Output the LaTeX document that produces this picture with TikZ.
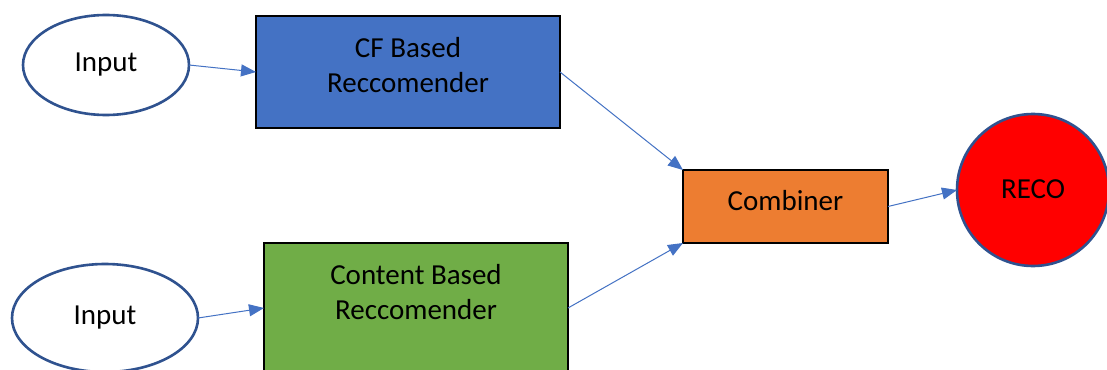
\documentclass[tikz,border=0pt]{standalone}
\usepackage{fontspec}
\setmainfont{Carlito}
\usetikzlibrary{arrows.meta,shapes.geometric}
\definecolor{cfblue}{HTML}{4472C4}
\definecolor{contgreen}{HTML}{70AD47}
\definecolor{combor}{HTML}{ED7D31}
\definecolor{rimblue}{HTML}{2F528F}
\tikzset{
  inbox/.style={ellipse,draw=rimblue,line width=1.3pt,fill=white,outer sep=0pt,inner sep=0pt},
  recbox/.style={rectangle,draw=black,line width=0.75pt,outer sep=0pt,align=center,inner sep=0pt},
  link/.style={draw=cfblue,line width=0.5pt,-{Triangle[length=7.5pt,width=6pt]}}
}
\begin{document}
\begin{tikzpicture}[x=0.5pt,y=-0.5pt,font=\fontsize{14.5}{17.5}\selectfont]
  \clip (0,0) rectangle (1107,369);
  \fill[white] (0,0) rectangle (1107,369);
  % sources
  \node[inbox,minimum width=83pt,minimum height=50pt] (in1) at (106,65) {Input};
  \node[inbox,minimum width=93pt,minimum height=54pt] (in2) at (105,318) {Input};
  % recommenders
  \node[recbox,fill=cfblue,minimum width=152pt,minimum height=56pt,text depth=7.5pt]
    (cf) at (408,72) {CF Based\\Reccomender};
  \node[recbox,fill=contgreen,minimum width=152pt,minimum height=65pt,text depth=16pt]
    (cont) at (416,308) {Content Based\\Reccomender};
  \node[recbox,fill=combor,minimum width=102.5pt,minimum height=36.5pt,text depth=6.5pt]
    (comb) at (785.5,206.5) {Combiner};
  \node[circle,draw=rimblue,line width=1.3pt,fill=red,minimum size=76pt,outer sep=0pt,text height=9pt]
    (reco) at (1033,190) {RECO};
  % links
  \draw[link] (in1.east) -- (cf.west);
  \draw[link] (in2.east) -- (cont.west);
  \draw[link] (cf.east) -- (comb.north west);
  \draw[link] (cont.east) -- (comb.south west);
  \draw[link] (comb.east) -- (reco.west);
\end{tikzpicture}
\end{document}
